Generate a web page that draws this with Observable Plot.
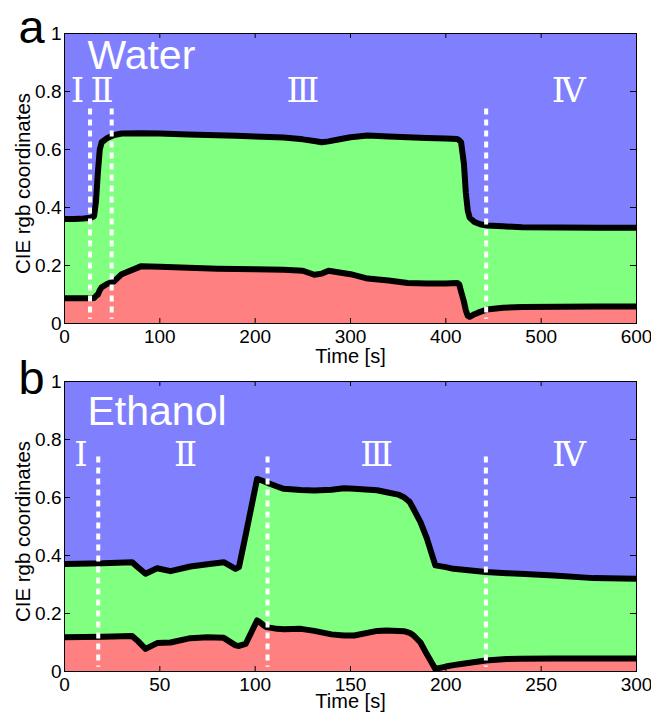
<!DOCTYPE html>
<html>
<head>
<meta charset="utf-8">
<script src="https://cdn.jsdelivr.net/npm/d3@7"></script>
<script src="https://cdn.jsdelivr.net/npm/@observablehq/plot@0.6"></script>
<style>
  html, body { margin: 0; padding: 0; background: white; }
  #wrap { position: relative; width: 651px; height: 712px; overflow: hidden; }
  #wrap svg { position: absolute; left: 0; background: transparent; }
</style>
</head>
<body>
<div id="wrap"></div>
<script>
// ---------- data ----------
const yTicks = [0, 0.2, 0.4, 0.6, 0.8, 1];
const dividerSpan = [0.74, 0.015];
const phaseLabels = ["Ⅰ", "Ⅱ", "Ⅲ", "Ⅳ"];
const xLabel = "Time [s]";
const yLabel = "CIE rgb coordinates";

// Panel a: Water
const waterTime  = [0, 10, 20, 28, 31, 33, 35, 37, 39, 45, 52, 60, 80, 100, 130, 160, 180, 200, 230, 250, 262, 270, 277, 290, 300, 318, 340, 360, 380, 400, 412, 414, 416, 419, 421, 423, 425, 430, 436, 443, 460, 480, 520, 560, 600];
const waterUpper = [0.36, 0.36, 0.362, 0.365, 0.37, 0.42, 0.52, 0.60, 0.625, 0.64, 0.65, 0.655, 0.656, 0.655, 0.652, 0.649, 0.647, 0.645, 0.641, 0.635, 0.629, 0.625, 0.628, 0.636, 0.642, 0.648, 0.645, 0.642, 0.64, 0.638, 0.636, 0.632, 0.625, 0.55, 0.45, 0.39, 0.365, 0.35, 0.342, 0.338, 0.335, 0.332, 0.331, 0.33, 0.33];
const waterLower = [0.087, 0.087, 0.087, 0.087, 0.088, 0.095, 0.10, 0.115, 0.125, 0.137, 0.145, 0.17, 0.197, 0.196, 0.192, 0.189, 0.188, 0.187, 0.185, 0.182, 0.168, 0.172, 0.182, 0.175, 0.17, 0.155, 0.148, 0.14, 0.138, 0.138, 0.14, 0.135, 0.11, 0.075, 0.045, 0.027, 0.023, 0.032, 0.04, 0.048, 0.054, 0.057, 0.058, 0.059, 0.059];
const waterTicks = [0, 100, 200, 300, 400, 500, 600];
const waterDividers = [26.8, 49.5, 442.3];
const waterPhaseTime = [13.6, 39.5, 250, 529];
const waterPhaseLevel = 0.80;

// Panel b: Ethanol
const ethanolTime  = [0, 20, 35.5, 38, 42.5, 48.6, 55.6, 66, 75, 83.5, 89.7, 91.5, 95, 101, 102, 104.5, 106, 111.5, 115, 124, 131, 140, 146.5, 152, 164, 169, 175, 178, 181, 183, 186.7, 190, 194.5, 200, 204, 208, 221, 232, 239, 256.6, 277.6, 300];
const ethanolUpper = [0.371, 0.373, 0.377, 0.362, 0.337, 0.356, 0.346, 0.362, 0.37, 0.377, 0.354, 0.36, 0.47, 0.664, 0.662, 0.656, 0.652, 0.638, 0.63, 0.626, 0.624, 0.627, 0.632, 0.63, 0.625, 0.618, 0.61, 0.601, 0.585, 0.561, 0.515, 0.46, 0.366, 0.36, 0.354, 0.352, 0.343, 0.339, 0.337, 0.331, 0.322, 0.32];
const ethanolLower = [0.118, 0.12, 0.122, 0.108, 0.078, 0.098, 0.1, 0.115, 0.118, 0.116, 0.09, 0.088, 0.095, 0.176, 0.172, 0.159, 0.153, 0.147, 0.146, 0.147, 0.14, 0.128, 0.124, 0.124, 0.14, 0.141, 0.14, 0.139, 0.133, 0.125, 0.1, 0.06, 0.009, 0.017, 0.022, 0.026, 0.038, 0.043, 0.044, 0.045, 0.045, 0.045];
const ethanolTicks = [0, 50, 100, 150, 200, 250, 300];
const ethanolDividers = [17.7, 106.5, 221];
const ethanolPhaseTime = [8.7, 63.5, 163.7, 264.6];
const ethanolPhaseLevel = 0.745;

// ---------- drawing ----------
const BLUE = "#8080ff", GREEN = "#80ff80", RED = "#ff8080";
const SANS = "Liberation Sans, Arial, Helvetica, sans-serif";

function panel(cfg) {
  const rows = cfg.time.map((t, i) => ({t, upper: cfg.upper[i], lower: cfg.lower[i]}));
  const phases = phaseLabels.map((label, i) => ({label, t: cfg.phaseTime[i], y: cfg.phaseLevel}));
  const xMax = cfg.ticks[cfg.ticks.length - 1];
  const svg = Plot.plot({
    width: 651,
    height: cfg.height,
    marginLeft: 64,
    marginRight: 15,
    marginTop: 33,
    marginBottom: cfg.height - 323,
    style: {fontFamily: SANS, fontSize: "19px", background: "transparent", overflow: "visible", color: "black"},
    x: {domain: [0, xMax]},
    y: {domain: [0, 1]},
    marks: [
      Plot.frame({fill: BLUE, stroke: null}),
      Plot.areaY(rows, {x: "t", y: "upper", fill: GREEN}),
      Plot.areaY(rows, {x: "t", y: "lower", fill: RED}),
      Plot.lineY(rows, {x: "t", y: "upper", stroke: "black", strokeWidth: 6, strokeLinejoin: "round", clip: true}),
      Plot.lineY(rows, {x: "t", y: "lower", stroke: "black", strokeWidth: 6, strokeLinejoin: "round", clip: true}),
      Plot.ruleX(cfg.dividers, {x: d => d, y1: dividerSpan[0], y2: dividerSpan[1], stroke: "white", strokeWidth: 4, strokeDasharray: "6,5"}),
      Plot.text(phases, {x: "t", y: "y", text: "label", fill: "white", fontFamily: "DejaVu Serif, Liberation Serif, serif", fontSize: 34, lineAnchor: "middle"}),
      Plot.text([cfg.name], {text: d => d, frameAnchor: "top-left", dx: 23, dy: cfg.nameDy, textAnchor: "start", lineAnchor: "bottom", fill: "white", fontSize: 41, fontFamily: SANS}),
      Plot.text([cfg.letter], {text: d => d, frameAnchor: "top-left", dx: -46, dy: cfg.letterDy, textAnchor: "start", lineAnchor: "bottom", fill: "black", fontSize: 47, fontFamily: SANS}),
      // inward tick marks on all four sides
      Plot.tickX(cfg.ticks, {x: d => d, insetTop: 285, stroke: "black", strokeWidth: 1}),
      Plot.tickX(cfg.ticks, {x: d => d, insetBottom: 285, stroke: "black", strokeWidth: 1}),
      Plot.tickY(yTicks, {y: d => d, insetRight: 566, stroke: "black", strokeWidth: 1}),
      Plot.tickY(yTicks, {y: d => d, insetLeft: 566, stroke: "black", strokeWidth: 1}),
      Plot.axisX({ticks: cfg.ticks, tickSize: 0, tickPadding: 6, tickFormat: d => String(d), label: null, fontSize: 19, fontFamily: SANS}),
      Plot.axisY({ticks: yTicks, tickSize: 0, tickPadding: 3, tickFormat: d => String(d), label: null, fontSize: 19, fontFamily: SANS}),
      Plot.text([xLabel], {text: d => d, frameAnchor: "bottom", dy: cfg.xLabelDy, textAnchor: "middle", lineAnchor: "bottom", fontSize: 20, fontFamily: SANS, fill: "black"}),
      Plot.text([yLabel], {text: d => d, frameAnchor: "left", dx: -49, dy: 5, rotate: -90, textAnchor: "middle", lineAnchor: "top", fontSize: 20.5, fontFamily: SANS, fill: "black"}),
      Plot.frame({stroke: "black", strokeWidth: 1})
    ]
  });
  svg.style.top = cfg.top + "px";
  return svg;
}

const wrap = document.getElementById("wrap");
wrap.appendChild(panel({
  time: waterTime, upper: waterUpper, lower: waterLower, ticks: waterTicks,
  dividers: waterDividers, phaseTime: waterPhaseTime, phaseLevel: waterPhaseLevel,
  name: "Water", letter: "a", nameDy: 35, letterDy: 9, xLabelDy: 39, height: 360, top: 0
}));
wrap.appendChild(panel({
  time: ethanolTime, upper: ethanolUpper, lower: ethanolLower, ticks: ethanolTicks,
  dividers: ethanolDividers, phaseTime: ethanolPhaseTime, phaseLevel: ethanolPhaseLevel,
  name: "Ethanol", letter: "b", nameDy: 43, letterDy: 12, xLabelDy: 36, height: 364, top: 348
}));
</script>
</body>
</html>
